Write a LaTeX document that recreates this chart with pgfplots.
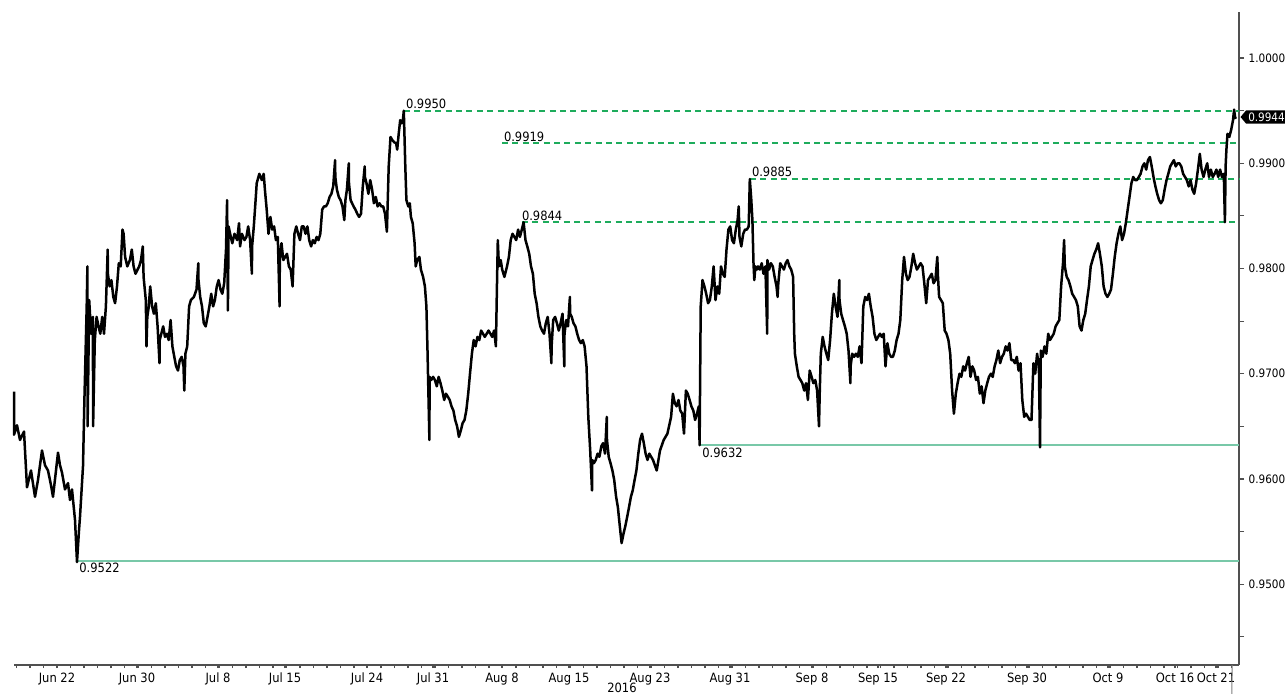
\documentclass[border=0pt]{standalone}
\usepackage{pgfplots}
\pgfplotsset{compat=1.18}
\usepackage{fontspec}
\setmainfont{DejaVu Sans Condensed}
\usetikzlibrary{shapes.symbols}
\definecolor{lvlgreen}{RGB}{30,172,92}
\definecolor{lvlteal}{RGB}{120,200,168}
\definecolor{spine}{RGB}{80,80,80}
\pgfplotstableread{
x y
14 0.9683
14 0.9642
17 0.9651
20 0.9637
24 0.9645
27 0.9592
31 0.9608
35 0.9583
38 0.9599
42 0.9627
45 0.9613
48 0.9608
51 0.9594
53 0.9583
56 0.9608
58 0.9625
60 0.9613
62 0.9606
65 0.9590
68 0.9596
70 0.9580
72 0.9590
75 0.9561
77 0.9521
79 0.9551
80.0 0.9564
83.0 0.9612
84.4 0.9675
86.7 0.9764
87.4 0.9802
87.6 0.9650
89.2 0.9770
91.1 0.9738
92.9 0.9754
93.1 0.9650
94.8 0.9732
96.6 0.9754
98.5 0.9745
100.3 0.9738
102.2 0.9754
104.0 0.9738
105.9 0.9764
107.7 0.9818
107.9 0.9795
109.6 0.9783
111.4 0.9789
113.3 0.9773
115.1 0.9767
117.0 0.9783
118.8 0.9805
120.7 0.9802
122.5 0.9837
123.6 0.9833
125.1 0.9811
127.3 0.9802
129.9 0.9808
131.8 0.9818
133.6 0.9802
135.5 0.9795
139.2 0.9802
141.0 0.9808
142.8 0.9821
143.6 0.9792
145.8 0.9770
146.5 0.9726
147.3 0.9754
148.8 0.9764
150.2 0.9783
152.1 0.9764
153.9 0.9757
155.8 0.9767
157.6 0.9745
159.5 0.9710
159.7 0.9732
161.3 0.9738
163.2 0.9745
165.0 0.9735
166.9 0.9738
168.7 0.9732
170.6 0.9751
172.4 0.9726
174.3 0.9716
176.1 0.9707
178.0 0.9703
179.8 0.9713
181.7 0.9716
183.5 0.9707
184.3 0.9684
185.4 0.9719
187.2 0.9726
189.1 0.9764
190.9 0.9770
193.9 0.9773
196.5 0.9780
198.3 0.9805
198.5 0.9789
200.2 0.9773
202.0 0.9764
203.8 0.9748
205.7 0.9745
207.5 0.9754
209.4 0.9764
211.2 0.9776
213.1 0.9764
214.9 0.9770
216.8 0.9783
218.6 0.9789
220.5 0.9780
222.3 0.9776
224.2 0.9786
226.0 0.9818
227.1 0.9865
227.9 0.9760
228.6 0.9840
230.8 0.9830
232.3 0.9824
234.5 0.9833
237.1 0.9827
239.0 0.9843
240.1 0.9821
241.9 0.9833
244.5 0.9827
246.4 0.9830
248.2 0.9840
250.1 0.9827
251.9 0.9795
252.1 0.9821
253.8 0.9840
255.6 0.9865
256.7 0.9881
259.3 0.9890
261.9 0.9884
263.7 0.9890
264.9 0.9875
266.7 0.9856
268.5 0.9833
270.4 0.9849
272.2 0.9837
274.1 0.9840
275.9 0.9827
277.8 0.9830
279.6 0.9764
279.8 0.9808
281.5 0.9824
283.3 0.9808
285.2 0.9811
287.0 0.9814
288.9 0.9802
290.7 0.9799
292.6 0.9783
294.4 0.9833
296.3 0.9840
298.1 0.9833
300.0 0.9827
301.8 0.9840
303.7 0.9840
305.5 0.9833
307.4 0.9840
309.2 0.9827
311.1 0.9821
312.9 0.9827
314.8 0.9824
316.6 0.9830
318.5 0.9827
320.3 0.9833
322.2 0.9856
324.0 0.9859
325.9 0.9859
327.7 0.9862
329.6 0.9868
331.4 0.9871
333.2 0.9878
335.1 0.9903
335.3 0.9887
336.9 0.9875
338.8 0.9868
340.6 0.9865
342.5 0.9859
344.3 0.9846
345.4 0.9865
346.9 0.9875
348.8 0.9900
349.0 0.9881
350.6 0.9865
353.6 0.9859
355.4 0.9856
357.3 0.9852
359.1 0.9849
361.0 0.9852
362.8 0.9878
364.7 0.9897
364.9 0.9887
366.5 0.9881
368.4 0.9871
370.2 0.9884
372.1 0.9875
373.9 0.9862
375.8 0.9868
377.6 0.9859
379.5 0.9862
381.3 0.9859
383.2 0.9859
385.0 0.9852
386.9 0.9835
388.7 0.9897
390.5 0.9925
392.4 0.9922
394.2 0.9920
396.1 0.9919
397.2 0.9913
398.7 0.9928
400.2 0.9941
401.6 0.9938
403.0 0.9942
403.8 0.9950
404.6 0.9922
405.3 0.9897
406.4 0.9865
408.3 0.9859
409.8 0.9862
410.9 0.9849
412.7 0.9843
414.6 0.9824
415.7 0.9802
417.2 0.9808
419.4 0.9811
420.9 0.9799
423.1 0.9792
424.9 0.9783
426.4 0.9764
427.5 0.9722
429.4 0.9637
429.6 0.9697
431.2 0.9694
433.1 0.9697
434.9 0.9694
436.8 0.9688
438.6 0.9697
440.5 0.9691
442.3 0.9684
444.2 0.9675
446.0 0.9681
447.9 0.9678
449.7 0.9675
451.5 0.9669
453.4 0.9665
455.2 0.9656
457.1 0.9650
458.9 0.9640
460.8 0.9646
462.6 0.9653
464.5 0.9656
466.3 0.9665
468.2 0.9681
470.0 0.9700
471.9 0.9719
473.7 0.9732
475.6 0.9726
477.4 0.9735
479.3 0.9732
481.1 0.9741
483.0 0.9738
484.8 0.9735
486.7 0.9738
488.5 0.9741
490.4 0.9738
492.2 0.9735
494.1 0.9741
495.9 0.9726
497.0 0.9786
497.8 0.9827
498.9 0.9802
500.7 0.9808
502.2 0.9799
504.4 0.9792
507.0 0.9802
508.9 0.9811
510.7 0.9827
512.5 0.9833
514.4 0.9830
516.2 0.9827
518.1 0.9837
519.9 0.9830
521.8 0.9837
523.6 0.9844
525.5 0.9827
527.3 0.9821
529.2 0.9814
531.0 0.9802
532.9 0.9795
534.7 0.9776
536.6 0.9767
538.4 0.9754
540.3 0.9745
542.1 0.9741
544.0 0.9738
545.8 0.9748
547.7 0.9754
549.5 0.9738
551.4 0.9710
551.6 0.9726
553.2 0.9751
555.1 0.9754
556.9 0.9748
558.8 0.9741
560.6 0.9748
562.5 0.9757
564.3 0.9707
564.5 0.9738
566.2 0.9751
568.0 0.9745
569.9 0.9773
570.1 0.9757
571.7 0.9754
573.5 0.9748
575.4 0.9745
577.2 0.9738
579.1 0.9732
580.9 0.9729
582.8 0.9732
584.6 0.9726
586.5 0.9707
588.3 0.9659
590.2 0.9627
592.0 0.9589
592.2 0.9618
593.9 0.9615
595.7 0.9618
597.6 0.9624
599.4 0.9621
601.3 0.9631
603.1 0.9634
605.0 0.9624
606.8 0.9659
607.0 0.9637
608.7 0.9621
610.5 0.9615
612.4 0.9608
614.2 0.9599
616.1 0.9583
617.9 0.9573
619.8 0.9555
621.6 0.9539
623.5 0.9548
625.3 0.9555
627.2 0.9564
629.0 0.9573
630.9 0.9583
632.7 0.9589
634.6 0.9599
636.4 0.9608
638.3 0.9624
640.1 0.9637
642.0 0.9643
643.8 0.9634
645.6 0.9624
647.5 0.9618
649.3 0.9624
653.0 0.9618
656.7 0.9608
660.0 0.9627
663.7 0.9637
667.4 0.9643
671.1 0.9659
672.9 0.9681
674.8 0.9672
676.6 0.9669
678.5 0.9675
680.3 0.9665
682.2 0.9662
684.0 0.9643
685.9 0.9684
687.7 0.9681
689.6 0.9675
691.4 0.9669
693.3 0.9665
695.1 0.9656
697.0 0.9662
698.8 0.9669
699.6 0.9632
700.7 0.9764
702.5 0.9789
704.4 0.9783
706.2 0.9776
708.1 0.9767
709.9 0.9770
711.8 0.9783
713.6 0.9802
715.5 0.9770
717.3 0.9783
719.2 0.9776
721.0 0.9802
722.8 0.9795
724.7 0.9792
726.5 0.9818
728.4 0.9837
730.2 0.9840
732.1 0.9827
733.9 0.9824
735.8 0.9837
737.6 0.9846
738.7 0.9859
739.5 0.9830
741.3 0.9821
743.2 0.9833
745.0 0.9837
746.9 0.9837
748.7 0.9840
749.8 0.9885
751.3 0.9865
752.4 0.9846
753.5 0.9805
754.3 0.9789
755.4 0.9802
756.9 0.9799
758.0 0.9802
759.8 0.9799
761.7 0.9805
763.5 0.9795
765.4 0.9802
767.2 0.9738
767.4 0.9808
769.1 0.9799
770.9 0.9805
772.8 0.9802
774.6 0.9792
776.5 0.9783
777.6 0.9773
778.3 0.9786
780.2 0.9805
782.0 0.9802
783.9 0.9799
785.7 0.9805
787.5 0.9808
789.4 0.9802
791.2 0.9799
793.1 0.9792
794.2 0.9738
794.9 0.9719
796.8 0.9707
798.6 0.9697
800.5 0.9694
802.3 0.9691
804.2 0.9684
806.0 0.9691
807.9 0.9675
809.7 0.9703
811.6 0.9697
813.4 0.9691
815.3 0.9694
817.1 0.9684
819.0 0.9650
819.7 0.9681
820.8 0.9719
822.7 0.9735
824.5 0.9726
826.4 0.9719
828.2 0.9713
830.1 0.9732
831.9 0.9757
833.8 0.9776
835.6 0.9764
837.5 0.9754
839.3 0.9789
839.5 0.9770
841.2 0.9757
843.0 0.9751
844.9 0.9745
846.7 0.9738
848.5 0.9722
850.4 0.9691
850.6 0.9707
852.2 0.9719
854.1 0.9716
855.9 0.9719
857.8 0.9716
859.6 0.9726
861.5 0.9710
863.3 0.9764
865.2 0.9773
867.0 0.9770
868.9 0.9776
870.7 0.9764
872.6 0.9754
874.4 0.9738
876.3 0.9732
878.1 0.9735
880.0 0.9738
881.8 0.9735
883.7 0.9738
885.5 0.9707
887.4 0.9729
889.2 0.9719
891.1 0.9716
892.9 0.9716
894.8 0.9722
896.6 0.9732
898.5 0.9738
900.3 0.9751
902.2 0.9789
904.0 0.9811
905.9 0.9795
907.7 0.9789
909.5 0.9792
911.4 0.9802
913.2 0.9814
915.1 0.9805
916.9 0.9799
918.8 0.9802
920.6 0.9805
922.5 0.9802
924.3 0.9786
926.2 0.9767
928.0 0.9789
929.9 0.9792
931.7 0.9795
933.6 0.9786
935.4 0.9789
937.3 0.9811
938.0 0.9792
939.1 0.9773
941.0 0.9770
942.8 0.9767
944.7 0.9741
946.5 0.9738
948.4 0.9732
950.2 0.9719
952.1 0.9684
953.9 0.9662
955.8 0.9681
957.6 0.9691
959.5 0.9700
961.3 0.9697
963.2 0.9707
965.0 0.9703
966.9 0.9710
968.7 0.9716
970.5 0.9697
972.4 0.9707
974.2 0.9703
976.1 0.9694
977.9 0.9697
979.8 0.9681
981.6 0.9688
983.5 0.9672
985.3 0.9684
987.2 0.9691
989.0 0.9697
990.9 0.9700
992.7 0.9697
994.6 0.9707
996.4 0.9713
998.3 0.9722
1000.1 0.9710
1002.0 0.9716
1003.8 0.9719
1005.7 0.9726
1007.5 0.9722
1009.4 0.9729
1011.2 0.9713
1013.1 0.9713
1014.9 0.9710
1016.8 0.9716
1018.6 0.9703
1020.5 0.9710
1022.3 0.9675
1024.2 0.9659
1026.0 0.9662
1027.9 0.9659
1029.7 0.9656
1031.5 0.9656
1033.4 0.9710
1035.2 0.9700
1037.1 0.9719
1038.9 0.9707
1040.0 0.9630
1040.8 0.9722
1042.6 0.9716
1044.5 0.9726
1046.3 0.9719
1048.2 0.9738
1050.0 0.9732
1051.9 0.9735
1053.7 0.9738
1055.6 0.9745
1057.4 0.9748
1059.3 0.9751
1061.1 0.9783
1063.0 0.9805
1064.1 0.9827
1064.8 0.9802
1066.7 0.9792
1068.5 0.9789
1070.4 0.9783
1072.2 0.9776
1074.1 0.9773
1075.9 0.9770
1077.8 0.9764
1079.6 0.9745
1081.5 0.9741
1083.3 0.9751
1085.2 0.9757
1087.0 0.9770
1088.9 0.9783
1090.7 0.9802
1092.5 0.9808
1094.4 0.9814
1096.2 0.9818
1098.1 0.9824
1099.9 0.9814
1101.8 0.9802
1103.6 0.9783
1105.5 0.9776
1107.4 0.9773
1109.2 0.9776
1111.0 0.9780
1112.9 0.9795
1114.7 0.9811
1116.6 0.9824
1118.4 0.9833
1120.3 0.9840
1122.1 0.9827
1124.0 0.9833
1125.8 0.9843
1127.7 0.9856
1129.5 0.9868
1131.4 0.9881
1133.2 0.9887
1135.1 0.9884
1136.9 0.9884
1138.8 0.9887
1140.6 0.9890
1142.5 0.9897
1144.3 0.9900
1146.2 0.9894
1148.0 0.9903
1149.9 0.9906
1151.7 0.9897
1153.5 0.9887
1155.4 0.9878
1157.2 0.9871
1159.1 0.9865
1160.9 0.9862
1162.8 0.9865
1164.6 0.9875
1166.5 0.9884
1168.3 0.9890
1170.2 0.9897
1172.0 0.9900
1173.9 0.9903
1175.7 0.9897
1177.6 0.9900
1179.4 0.9900
1181.3 0.9897
1183.1 0.9890
1185.0 0.9887
1186.8 0.9884
1188.7 0.9878
1190.5 0.9884
1192.4 0.9875
1194.2 0.9871
1196.1 0.9881
1197.9 0.9894
1199.8 0.9909
1201.6 0.9894
1203.5 0.9887
1205.3 0.9894
1207.2 0.9900
1209.0 0.9887
1210.9 0.9894
1212.7 0.9887
1214.6 0.9890
1216.4 0.9894
1218.2 0.9887
1220.1 0.9894
1221.9 0.9887
1223.8 0.9890
1224.9 0.9844
1225.6 0.9897
1226.4 0.9913
1227.5 0.9928
1229.3 0.9925
1231.2 0.9932
1233.0 0.9941
1234.1 0.9951
1235.2 0.9943
1236.0 0.9944
}\pricedata
\begin{document}
\fontsize{6.4}{7.6}\selectfont
\begin{tikzpicture}
\begin{axis}[
  scale only axis,
  width=612.5pt, height=326.5pt,
  xmin=14, xmax=1239, ymin=0.94230, ymax=1.00437,
  axis x line*=bottom, axis y line*=right,
  axis line style={line width=0.9pt, color=spine},
  clip=false,
  xtick={57,137,218,285,367,433,502,569,650,730,812,878,946,1027,1108,1175,1216},
  xticklabels={Jun 22,Jun 30,Jul 8,Jul 15,Jul 24,Jul 31,Aug 8,Aug 15,Aug 23,Aug 31,Sep 8,Sep 15,Sep 22,Sep 30,Oct 9,Oct 16,Oct 21},
  minor xtick={16.5,30,...,1239},
  ytick={0.95,0.96,0.97,0.98,0.99,1.0},
  minor ytick={0.945,0.955,0.965,0.975,0.985,0.995},
  yticklabel style={/pgf/number format/fixed, /pgf/number format/fixed zerofill, /pgf/number format/precision=4, /pgf/number format/assume math mode=true, font=\fontsize{5.8}{7}\selectfont},
  xticklabel style={font=\fontsize{6.4}{7.6}\selectfont, yshift=1pt},
  tick style={color=spine, line width=0.6pt},
  tick align=outside,
  major tick length=2.5pt, minor tick length=2.5pt,
  x tick style={/pgfplots/major tick length=1.5pt,/pgfplots/minor tick length=1.5pt},
]
% support / resistance levels
\addplot[lvlteal, line width=0.8pt] coordinates {(77,0.9522) (1239,0.9522)};
\addplot[lvlteal, line width=0.8pt] coordinates {(700,0.9632) (1239,0.9632)};
\addplot[lvlgreen, line width=0.9pt, dash pattern=on 3pt off 2.2pt] coordinates {(404,0.9950) (1239,0.9950)};
\addplot[lvlgreen, line width=0.9pt, dash pattern=on 3pt off 2.2pt] coordinates {(502,0.9919) (1239,0.9919)};
\addplot[lvlgreen, line width=0.9pt, dash pattern=on 3pt off 2.2pt] coordinates {(750,0.9885) (1239,0.9885)};
\addplot[lvlgreen, line width=0.9pt, dash pattern=on 3pt off 2.2pt] coordinates {(522,0.9844) (1239,0.9844)};
% price
\addplot[black, line width=1.25pt, line join=round] table[x=x,y=y] {\pricedata};
% labels
\node[anchor=south west, inner sep=0.8pt] at (axis cs:404,0.9950) {0.9950};
\node[anchor=south west, inner sep=0.8pt] at (axis cs:502,0.9919) {0.9919};
\node[anchor=south west, inner sep=0.8pt] at (axis cs:750,0.9885) {0.9885};
\node[anchor=south west, inner sep=0.8pt] at (axis cs:520,0.9844) {0.9844};
\node[anchor=north west, inner sep=1pt] at (axis cs:700,0.9632) {0.9632};
\node[anchor=north west, inner sep=1pt] at (axis cs:77,0.9522) {0.9522};
\node[signal, signal to=west, signal pointer angle=100, fill=black, text=white, anchor=west, inner sep=1.1pt, font=\fontsize{5.8}{7}\selectfont] at (axis cs:1240,0.9944) {0.9944};
\node[anchor=center] at (axis cs:622,0.94230) [yshift=-11.5pt] {2016};
\draw[gray, line width=0.5pt] (axis cs:1232,0.94230) -- ++(0,-14.5pt);
\fill[black] (axis cs:1246,0.94230) ++(0,-11pt) -- ++(2.8pt,-1.2pt) -- ++(-2.8pt,-1.2pt) -- cycle;
\end{axis}
\pgfresetboundingbox
\path (current axis.south west) ++(-7pt,-14.5pt) rectangle ++(642.5pt,347pt);
\end{tikzpicture}
\end{document}
